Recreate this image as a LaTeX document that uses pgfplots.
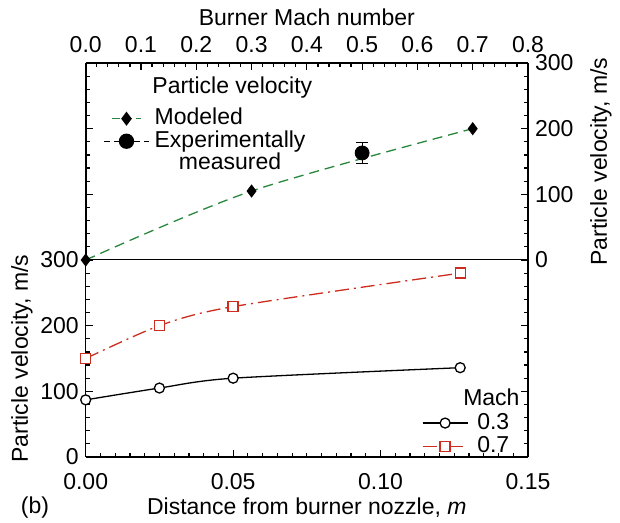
\documentclass[border=0pt]{standalone}
\usepackage{fontspec}
\setmainfont{Liberation Sans}
\usepackage{pgfplots}
\pgfplotsset{compat=1.18}
\definecolor{mgreen}{RGB}{40,135,60}
\definecolor{mred}{RGB}{205,45,30}
\pgfplotsset{
  shortimg/.style={legend image code/.code={\path (-11.25pt,0pt) (11.25pt,0pt); \draw[mark repeat=2,mark phase=2,##1] plot coordinates {(-7.25pt,0pt)(0pt,0pt)(7.25pt,0pt)};}},
  longimg/.style={legend image code/.code={\path (-11.25pt,0pt) (11.25pt,0pt); \draw[mark repeat=2,mark phase=2,##1] plot coordinates {(-11.25pt,0pt)(0pt,0pt)(11.25pt,0pt)};}},
  machimg/.style={legend image code/.code={\draw[mark repeat=2,mark phase=2,##1] plot coordinates {(0pt,0pt)(11.25pt,0pt)(22.5pt,0pt)};}},
}
\begin{document}
\begin{tikzpicture}[font=\fontsize{11.5}{13.8}\selectfont]
\pgfplotsset{
  common/.style={
    scale only axis, width=221.15pt, height=98.5pt,
    axis line style={line width=0.8pt},
    x axis line style={-},
    tick align=inside,
    major tick length=0pt, minor tick length=0pt,
    /pgf/number format/assume math mode=true,
    clip=false,
    ymin=0, ymax=300, ytick={0,100,200,300},
    legend cell align=left,
  }
}
% ---------- lower panel ----------
\begin{axis}[common, at={(0,0)}, anchor=south west,
  axis x line*=bottom,
  xmin=0, xmax=0.15, xtick={0,0.05,0.1,0.15},
  xticklabel style={yshift=-4.5pt, /pgf/number format/.cd, fixed, fixed zerofill, precision=2},
  yticklabel pos=left,
  xlabel={Distance from burner nozzle, \textit{m}},
  ylabel={Particle velocity, m/s},
  xlabel style={at={(axis description cs:0.5,-0.2589)}, anchor=center},
  ylabel style={at={(axis description cs:-0.1441,0.5)}, anchor=center},
  legend style={at={(rel axis cs:0.984,-0.01)}, anchor=south east, draw=none, fill=none,
    row sep=-0.25pt, inner sep=0pt, column sep=4pt,
    nodes={text height=8.5pt, text depth=2.5pt, inner sep=0.5pt}},
  machimg,
]
\addlegendimage{empty legend}\addlegendentry{\hspace*{-7pt}Mach}
\addplot[black, line width=0.65pt, smooth, tension=0.45, mark=*, mark size=2.5pt, mark options={solid, fill=white, draw=black}]
  coordinates {(0,87)(0.025,105)(0.05,120)(0.127,136)};
\addlegendentry{0.3}
\addplot[mred, line width=0.65pt, smooth, tension=0.45, dash pattern=on 7pt off 2.5pt on 1pt off 2.5pt, mark=square*, mark size=2.5pt, mark options={solid, fill=white, draw=mred}]
  coordinates {(0,150)(0.025,200)(0.05,229)(0.127,280)};
\addlegendentry{0.7}
\draw[line width=0.5pt] (axis description cs:0,1) -- (axis description cs:1,1);
\node at (axis description cs:-0.1146,-0.2589) {(b)};
\end{axis}
% ---------- upper panel ----------
\begin{axis}[common, at={(0,98.5pt)}, anchor=south west,
  axis x line*=top,
  xmin=0, xmax=0.8, xtick={0,0.1,0.2,0.3,0.4,0.5,0.6,0.7,0.8},
  xtick pos=right, xticklabel pos=right,
  xticklabel style={yshift=1.75pt, /pgf/number format/.cd, fixed, fixed zerofill, precision=1},
  yticklabel pos=right,
  xlabel={Burner Mach number},
  xlabel style={at={(axis description cs:0.5,1.2335)}, anchor=center},
  ylabel={Particle velocity, m/s},
  ylabel style={at={(axis description cs:1.165,0.5)}, anchor=center},
  legend style={at={(rel axis cs:0.039,0.78)}, anchor=north west, draw=none, fill=none,
    row sep=-0.75pt, inner sep=0pt, column sep=2pt,
    nodes={text height=8.5pt, text depth=2.5pt, inner sep=0.5pt}},
]
\addlegendimage{shortimg, mgreen, line width=0.65pt, dash pattern=on 4pt off 2pt, mark=diamond*, mark size=3pt, mark options={black, solid}}
\addlegendentry{Modeled}
\addlegendimage{longimg, black, line width=0.65pt, dash pattern=on 3pt off 2pt, mark=*, mark size=3.5pt, mark options={solid}}
\addlegendentry{Experimentally}
\addlegendimage{empty legend}
\addlegendentry{\hspace*{1.056em}measured}
\addplot[forget plot, mgreen, line width=0.65pt, dash pattern=on 5pt off 3pt, smooth]
  coordinates {(0,0)(0.3,105)(0.7,200)};
\addplot[forget plot, only marks, black, mark=diamond*, mark size=3pt]
  coordinates {(0,0)(0.3,105)(0.7,200)};
\addplot[forget plot, only marks, black, mark=*, mark size=3.5pt,
  error bars/.cd, y dir=both, y explicit,
  error mark options={rotate=90, mark size=3pt, line width=0.6pt, black},
  error bar style={line width=0.6pt, black}]
  coordinates {(0.5,163) +- (0,16.5)};
\node[anchor=base west, inner sep=0pt] at (axis description cs:0.15,0.847) {Particle velocity};
\end{axis}
% ---------- tick marks (inside the frame) ----------
\begin{scope}[line width=0.6pt, black]
\foreach \i in {1,...,29}{
  \pgfmathsetmacro\xx{\i*221.15/30}
  \pgfmathsetmacro\len{mod(\i,10)==0 ? 3.5 : 2}
  \draw (\xx pt,0pt) -- ++(0pt,\len pt);
}
\foreach \i in {1,...,39}{
  \pgfmathsetmacro\xx{\i*221.15/40}
  \pgfmathsetmacro\len{mod(\i,5)==0 ? 3.5 : 2}
  \draw (\xx pt,197pt) -- ++(0pt,-\len pt);
}
\foreach \i in {1,...,29}{
  \pgfmathsetmacro\yy{\i*98.5/15}
  \pgfmathsetmacro\len{mod(\i,5)==0 ? 3.5 : 2}
  \draw (0pt,\yy pt) -- ++(\len pt,0pt);
  \draw (221.15pt,\yy pt) -- ++(-\len pt,0pt);
}
\end{scope}
\pgfresetboundingbox
\path[use as bounding box] (-42.85pt,-33pt) rectangle (267.15pt,228.5pt);
\end{tikzpicture}
\end{document}
